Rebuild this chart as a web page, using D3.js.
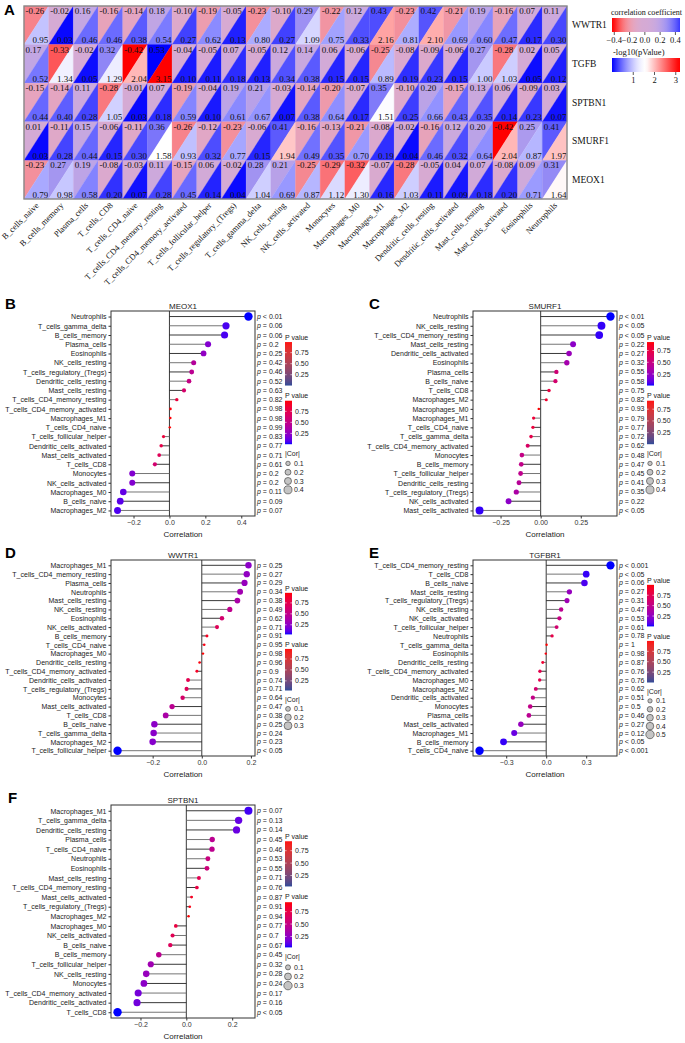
<!DOCTYPE html>
<html><head><meta charset="utf-8">
<script src="https://cdn.jsdelivr.net/npm/d3@7"></script>
<style>body{margin:0;background:#fff}svg{display:block}</style>
</head><body>
<svg id="c" width="685" height="1043"></svg>
<script>
// ---------------- DATA: panel A heatmap ----------------
const cellTypes = ["B_cells_naive","B_cells_memory","Plasma_cells","T_cells_CD8","T_cells_CD4_naive","T_cells_CD4_memory_resting","T_cells_CD4_memory_activated","T_cells_follicular_helper","T_cells_regulatory_(Tregs)","T_cells_gamma_delta","NK_cells_resting","NK_cells_activated","Monocytes","Macrophages_M0","Macrophages_M1","Macrophages_M2","Dendritic_cells_resting","Dendritic_cells_activated","Mast_cells_resting","Mast_cells_activated","Eosinophils","Neutrophils"];
const genes = ["WWTR1","TGFB","SPTBN1","SMURF1","MEOX1"];
const corWWTR1 = [-0.26,-0.02,0.16,-0.16,-0.14,0.18,-0.10,-0.19,-0.05,-0.23,-0.10,0.29,-0.22,0.12,0.43,-0.23,0.42,-0.21,0.19,-0.16,0.07,0.11];
const pWWTR1   = [0.95,0.03,0.46,0.46,0.38,0.54,0.27,0.62,0.13,0.80,0.27,1.09,0.75,0.33,2.16,0.81,2.10,0.69,0.60,0.47,0.17,0.30];
const corTGFB  = [0.17,-0.33,-0.02,0.32,-0.42,0.53,-0.04,-0.05,0.07,-0.05,0.12,0.14,0.06,-0.06,-0.25,-0.08,-0.09,-0.06,0.27,-0.28,0.02,0.05];
const pTGFB    = [0.52,1.34,0.05,1.29,2.04,3.15,0.10,0.11,0.18,0.13,0.34,0.38,0.15,0.15,0.89,0.19,0.23,0.15,1.00,1.03,0.05,0.12];
const corSPTBN1= [-0.15,-0.14,0.11,-0.28,-0.01,0.07,-0.19,-0.04,0.19,0.21,-0.03,-0.14,-0.20,-0.07,0.35,-0.10,0.20,-0.15,0.13,0.06,-0.09,0.03];
const pSPTBN1  = [0.44,0.40,0.28,1.05,0.03,0.18,0.59,0.10,0.61,0.67,0.07,0.38,0.64,0.17,1.51,0.25,0.66,0.43,0.35,0.14,0.23,0.07];
const corSMURF1= [0.01,-0.11,0.15,-0.06,-0.11,0.36,-0.26,-0.12,-0.23,-0.06,0.41,-0.16,-0.13,-0.21,-0.08,-0.02,-0.16,0.12,0.20,-0.42,0.25,0.41];
const pSMURF1  = [0.03,0.28,0.44,0.15,0.30,1.58,0.93,0.32,0.77,0.15,1.94,0.49,0.35,0.70,0.19,0.04,0.46,0.32,0.64,2.04,0.87,1.97];
const corMEOX1 = [-0.23,0.27,0.19,-0.08,-0.03,0.11,-0.15,0.06,-0.02,0.28,0.21,-0.25,-0.29,-0.32,-0.07,-0.28,-0.05,0.04,0.07,-0.08,0.09,0.31];
const pMEOX1   = [0.79,0.98,0.58,0.20,0.07,0.28,0.45,0.14,0.04,1.04,0.69,0.87,1.12,1.30,0.16,1.03,0.11,0.09,0.18,0.20,0.71,1.64];
const corTicks = [-0.4,-0.2,0.0,0.2,0.4];
const logpTicks = [1,2,3];

// ---------------- DATA: lollipop panels ----------------
const catsB = ["Neutrophils","T_cells_gamma_delta","B_cells_memory","Plasma_cells","Eosinophils","NK_cells_resting","T_cells_regulatory_(Tregs)","Dendritic_cells_resting","Mast_cells_resting","T_cells_CD4_memory_resting","T_cells_CD4_memory_activated","Macrophages_M1","T_cells_CD4_naive","T_cells_follicular_helper","Dendritic_cells_activated","Mast_cells_activated","T_cells_CD8","Monocytes","NK_cells_activated","Macrophages_M0","B_cells_naive","Macrophages_M2"];
const corB = [0.44,0.315,0.307,0.215,0.19,0.135,0.124,0.109,0.081,0.041,0.006,0.005,0.002,-0.033,-0.046,-0.057,-0.081,-0.207,-0.207,-0.257,-0.274,-0.289];
const pB = [0.005,0.06,0.06,0.2,0.25,0.42,0.46,0.52,0.63,0.82,0.98,0.98,0.99,0.83,0.77,0.71,0.61,0.2,0.2,0.11,0.09,0.07];
const pLabB = ["< 0.01","= 0.06","= 0.06","= 0.2","= 0.25","= 0.42","= 0.46","= 0.52","= 0.63","= 0.82","= 0.98","= 0.98","= 0.99","= 0.83","= 0.77","= 0.71","= 0.61","= 0.2","= 0.2","= 0.11","= 0.09","= 0.07"];
const ticksB = [-0.2,0.0,0.2,0.4];
const sizesB = [0.1,0.2,0.3,0.4];

const catsC = ["Neutrophils","NK_cells_resting","T_cells_CD4_memory_resting","Mast_cells_resting","Dendritic_cells_activated","Eosinophils","Plasma_cells","B_cells_naive","T_cells_CD8","Macrophages_M2","Macrophages_M0","Macrophages_M1","T_cells_CD4_naive","T_cells_gamma_delta","T_cells_CD4_memory_activated","Monocytes","B_cells_memory","T_cells_follicular_helper","Dendritic_cells_resting","T_cells_regulatory_(Tregs)","NK_cells_activated","Mast_cells_activated"];
const corC = [0.435,0.379,0.365,0.202,0.177,0.163,0.098,0.092,0.052,0.035,-0.012,-0.044,-0.048,-0.06,-0.081,-0.117,-0.121,-0.125,-0.135,-0.152,-0.2,-0.381];
const pC = [0.005,0.03,0.03,0.22,0.27,0.32,0.55,0.58,0.75,0.82,0.93,0.79,0.77,0.72,0.62,0.48,0.47,0.45,0.41,0.35,0.22,0.03];
const pLabC = ["< 0.01","< 0.05","< 0.05","= 0.22","= 0.27","= 0.32","= 0.55","= 0.58","= 0.75","= 0.82","= 0.93","= 0.79","= 0.77","= 0.72","= 0.62","= 0.48","= 0.47","= 0.45","= 0.41","= 0.35","= 0.22","< 0.05"];
const ticksC = [-0.25,0.0,0.25];
const sizesC = [0.1,0.2,0.3,0.4];

const catsD = ["Macrophages_M1","T_cells_CD4_memory_resting","Plasma_cells","Neutrophils","Mast_cells_resting","NK_cells_resting","Eosinophils","NK_cells_activated","B_cells_memory","T_cells_CD4_naive","Macrophages_M0","Dendritic_cells_resting","T_cells_CD4_memory_activated","Dendritic_cells_activated","T_cells_regulatory_(Tregs)","Monocytes","Mast_cells_activated","T_cells_CD8","B_cells_naive","T_cells_gamma_delta","Macrophages_M2","T_cells_follicular_helper"];
const corD = [0.19,0.183,0.174,0.156,0.145,0.114,0.082,0.062,0.021,0.01,0.005,-0.009,-0.02,-0.056,-0.062,-0.078,-0.121,-0.147,-0.193,-0.196,-0.2,-0.343];
const pD = [0.25,0.27,0.29,0.34,0.38,0.49,0.62,0.71,0.91,0.95,0.98,0.96,0.9,0.74,0.71,0.64,0.47,0.38,0.25,0.24,0.23,0.03];
const pLabD = ["= 0.25","= 0.27","= 0.29","= 0.34","= 0.38","= 0.49","= 0.62","= 0.71","= 0.91","= 0.95","= 0.98","= 0.96","= 0.9","= 0.74","= 0.71","= 0.64","= 0.47","= 0.38","= 0.25","= 0.24","= 0.23","< 0.05"];
const ticksD = [-0.2,0.0,0.2];
const sizesD = [0.1,0.2,0.3];

const catsE = ["T_cells_CD4_memory_resting","T_cells_CD8","B_cells_naive","Mast_cells_resting","T_cells_regulatory_(Tregs)","NK_cells_resting","NK_cells_activated","T_cells_follicular_helper","Neutrophils","T_cells_gamma_delta","Eosinophils","Dendritic_cells_resting","T_cells_CD4_memory_activated","Macrophages_M0","Macrophages_M2","Dendritic_cells_activated","Monocytes","Plasma_cells","Mast_cells_activated","Macrophages_M1","B_cells_memory","T_cells_CD4_naive"];
const corE = [0.482,0.30,0.287,0.174,0.156,0.112,0.099,0.078,0.044,0.003,-0.003,-0.026,-0.047,-0.049,-0.078,-0.10,-0.12,-0.13,-0.19,-0.24,-0.32,-0.50];
const pE = [0.0005,0.03,0.06,0.27,0.31,0.47,0.53,0.61,0.78,1,0.98,0.87,0.76,0.76,0.62,0.51,0.5,0.46,0.27,0.12,0.03,0.0005];
const pLabE = ["< 0.001","< 0.05","= 0.06","= 0.27","= 0.31","= 0.47","= 0.53","= 0.61","= 0.78","= 1","= 0.98","= 0.87","= 0.76","= 0.76","= 0.62","= 0.51","= 0.5","= 0.46","= 0.27","= 0.12","< 0.05","< 0.001"];
const ticksE = [-0.3,0.0,0.3];
const sizesE = [0.1,0.2,0.3,0.4,0.5];

const catsF = ["Macrophages_M1","T_cells_gamma_delta","Dendritic_cells_resting","Plasma_cells","T_cells_CD4_naive","Neutrophils","Eosinophils","Mast_cells_resting","T_cells_CD4_memory_resting","Mast_cells_activated","T_cells_regulatory_(Tregs)","Macrophages_M2","Macrophages_M0","NK_cells_activated","B_cells_naive","B_cells_memory","T_cells_follicular_helper","NK_cells_resting","Monocytes","T_cells_CD4_memory_activated","Dendritic_cells_activated","T_cells_CD8"];
const corF = [0.271,0.228,0.219,0.113,0.112,0.094,0.09,0.055,0.046,0.023,0.015,0.01,-0.046,-0.06,-0.07,-0.12,-0.155,-0.175,-0.185,-0.21,-0.215,-0.30];
const pF = [0.07,0.13,0.14,0.45,0.46,0.53,0.55,0.71,0.76,0.87,0.91,0.94,0.77,0.7,0.67,0.45,0.32,0.28,0.24,0.17,0.16,0.03];
const pLabF = ["= 0.07","= 0.13","= 0.14","= 0.45","= 0.46","= 0.53","= 0.55","= 0.71","= 0.76","= 0.87","= 0.91","= 0.94","= 0.77","= 0.7","= 0.67","= 0.45","= 0.32","= 0.28","= 0.24","= 0.17","= 0.16","< 0.05"];
const ticksF = [-0.2,0.0,0.2];
const sizesF = [0.1,0.2,0.3];

// ---------------- DRAW ----------------
const SERIF = "'Liberation Serif','Times New Roman',serif";
const SANS = "'Liberation Sans',Arial,sans-serif";
const svg = d3.select("#c");
const defs = svg.append("defs");
let gid = 0;
function gradient(colorFn, vertical) {
  const id = "g" + (gid++);
  const lg = defs.append("linearGradient").attr("id", id)
    .attr("x1", 0).attr("y1", 0).attr("x2", vertical ? 0 : 1).attr("y2", vertical ? 1 : 0);
  d3.range(0, 1.0001, 0.04).forEach(t => lg.append("stop").attr("offset", t).attr("stop-color", colorFn(t)));
  return "url(#" + id + ")";
}

// ===== Panel A =====
const heatCor = [corWWTR1, corTGFB, corSPTBN1, corSMURF1, corMEOX1];
const heatP = [pWWTR1, pTGFB, pSPTBN1, pSMURF1, pMEOX1];
const hx = d3.scaleBand().domain(cellTypes).range([24, 567]);
const hy = d3.scaleBand().domain(genes).range([6, 199]);
const corColor = d3.scaleDivergingPow(d3.interpolateRgbBasis(["#ff0000", "#ffffff", "#0000ff"]))
  .domain([-0.42, 0, 0.53]).exponent(1.8).clamp(true);
// -log10(p): blue (low) -> white (~1.6) -> red (high); blue side fades fast
const pBlueT = d3.scalePow().exponent(1.6).domain([0, 1.6]).range([1, 0]).clamp(true);
const pRedT = d3.scaleLinear().domain([1.6, 3.15]).range([0, 1]).clamp(true);
const toBlue = d3.interpolateRgb("#ffffff", "#0000ff");
const toRed = d3.interpolateRgb("#ffffff", "#ff0000");
function pColor(v) {
  if (v < 1.6) { const t = 1 - v / 1.6; return toBlue(Math.pow(t, 1.6)); }
  return toRed(pRedT(v));
}

svg.append("text").attr("x", 4).attr("y", 15).attr("font-family", SANS).attr("font-weight", "bold")
  .attr("font-size", 15).text("A");

const hg = svg.append("g");
genes.forEach((gname, gi) => {
  cellTypes.forEach((ct, ci) => {
    const x0 = hx(ct), y0 = hy(gname), w = hx.bandwidth(), h = hy.bandwidth();
    const cc = corColor(heatCor[gi][ci]);
    const pc = pColor(heatP[gi][ci]);
    hg.append("path").attr("d", `M${x0},${y0}L${x0 + w},${y0}L${x0},${y0 + h}Z`)
      .attr("fill", cc).attr("stroke", cc).attr("stroke-width", 0.3);
    hg.append("path").attr("d", `M${x0 + w},${y0}L${x0 + w},${y0 + h}L${x0},${y0 + h}Z`)
      .attr("fill", pc).attr("stroke", pc).attr("stroke-width", 0.3);
    hg.append("text").attr("x", x0 + 1.5).attr("y", y0 + 8).attr("font-family", SERIF)
      .attr("font-size", 9).attr("fill", "#111").text(heatCor[gi][ci].toFixed(2));
    hg.append("text").attr("x", x0 + w - 0.5).attr("y", y0 + h - 1.5).attr("font-family", SERIF)
      .attr("font-size", 9).attr("fill", "#111").attr("text-anchor", "end").text(heatP[gi][ci].toFixed(2));
  });
  hg.append("text").attr("x", 572).attr("y", hy(gname) + hy.bandwidth() / 2 + 3).attr("font-family", SERIF)
    .attr("font-size", 9.5).attr("fill", "#111").text(gname);
});
hg.append("rect").attr("x", 24).attr("y", 6).attr("width", 543).attr("height", 193)
  .attr("fill", "none").attr("stroke", "#888").attr("stroke-width", 1.4);
cellTypes.forEach(ct => {
  hg.append("text").attr("transform", `translate(${hx(ct) + hx.bandwidth() / 2 + 3},${206}) rotate(-45)`)
    .attr("text-anchor", "end").attr("font-family", SERIF).attr("font-size", 8.5).attr("fill", "#111").text(ct);
});

// heatmap legends
const lgA = svg.append("g").attr("font-family", SERIF).attr("font-size", 8.5).attr("fill", "#111");
lgA.append("text").attr("x", 611).attr("y", 15).attr("font-size", 8).attr("textLength", 71)
  .attr("lengthAdjust", "spacingAndGlyphs").text("correlation coefficient");
const corLx = d3.scaleLinear().domain([-0.43, 0.46]).range([612, 680]);
lgA.append("rect").attr("x", 612).attr("y", 18).attr("width", 68).attr("height", 14)
  .attr("fill", gradient(t => corColor(corLx.invert(612 + 68 * t)), false));
corTicks.forEach(v => {
  lgA.append("line").attr("x1", corLx(v)).attr("x2", corLx(v)).attr("y1", 32).attr("y2", 35).attr("stroke", "#111").attr("stroke-width", 0.7);
  lgA.append("text").attr("x", corLx(v)).attr("y", 43).attr("text-anchor", "middle").text(d3.format(".1f")(v).replace("-", "\u2212"));
});
lgA.append("text").attr("x", 613).attr("y", 55).text("-log10(pValue)");
const pLx = d3.scaleLinear().domain([0, 3.2]).range([612, 680]);
lgA.append("rect").attr("x", 612).attr("y", 58).attr("width", 68).attr("height", 14)
  .attr("fill", gradient(t => pColor(pLx.invert(612 + 68 * t)), false));
logpTicks.forEach(v => {
  lgA.append("line").attr("x1", pLx(v)).attr("x2", pLx(v)).attr("y1", 72).attr("y2", 75).attr("stroke", "#111").attr("stroke-width", 0.7);
  lgA.append("text").attr("x", pLx(v)).attr("y", 83).attr("text-anchor", "middle").text(v);
});

// ===== Lollipop panels =====
const bright = d3.interpolateLab("#0000ff", "#ff0000");
const muted = d3.interpolateLab("#2f4b98", "#ff1010");

function lollipop(o) {
  const g = svg.append("g").attr("font-family", SANS);
  const [x0, y0, x1, y1] = o.box;
  const ext = d3.extent(o.cor), pad = (ext[1] - ext[0]) * 0.05;
  const x = d3.scaleLinear().domain([ext[0] - pad, ext[1] + pad]).range([x0, x1]);
  const y = d3.scalePoint().domain(o.cats).range([y0, y1]).padding(0.6);
  const pExt = d3.extent(o.p);
  const col = d3.scaleLinear().domain(pExt).range([0, 1]);
  const absExt = d3.extent(o.cor.map(Math.abs));
  const r = d3.scaleRadial().domain(absExt).range([1.2, 4.2]);
  const k = y.step() / 9.13;

  g.append("text").attr("x", o.letterX).attr("y", y0 - 2).attr("font-weight", "bold").attr("font-size", 15).attr("fill", "#000").text(o.letter);
  g.append("text").attr("x", (x0 + x1) / 2).attr("y", y0 - 2).attr("text-anchor", "middle").attr("font-size", 8).attr("fill", "#222").text(o.title);

  g.append("line").attr("x1", x(0)).attr("x2", x(0)).attr("y1", y0).attr("y2", y1).attr("stroke", "#222").attr("stroke-width", 0.9);
  o.cats.forEach((c, i) => {
    g.append("line").attr("x1", x(0)).attr("x2", x(o.cor[i])).attr("y1", y(c)).attr("y2", y(c))
      .attr("stroke", i % 2 ? "#666" : "#222").attr("stroke-width", 0.9);
  });
  o.cats.forEach((c, i) => {
    g.append("circle").attr("cx", x(o.cor[i])).attr("cy", y(c)).attr("r", r(Math.abs(o.cor[i])))
      .attr("fill", bright(col(o.p[i])));
  });
  g.append("rect").attr("x", x0).attr("y", y0).attr("width", x1 - x0).attr("height", y1 - y0)
    .attr("fill", "none").attr("stroke", "#333").attr("stroke-width", 1);

  const ya = g.append("g").attr("transform", `translate(${x0},0)`).call(d3.axisLeft(y).tickSize(2.5).tickPadding(2));
  ya.select(".domain").remove();
  ya.selectAll("line").attr("stroke", "#333");
  ya.selectAll("text").attr("font-family", SANS).attr("font-size", 7).attr("fill", "#222");
  const xa = g.append("g").attr("transform", `translate(0,${y1})`)
    .call(d3.axisBottom(x).tickValues(o.ticks).tickSize(2.5).tickPadding(2).tickFormat(d3.format(o.fmt)));
  xa.select(".domain").remove();
  xa.selectAll("line").attr("stroke", "#333");
  xa.selectAll("text").attr("font-family", SANS).attr("font-size", 7).attr("fill", "#333");
  g.append("text").attr("x", (x0 + x1) / 2).attr("y", y1 + 21).attr("text-anchor", "middle").attr("font-size", 8).attr("fill", "#222").text("Correlation");

  o.cats.forEach((c, i) => {
    const t = g.append("text").attr("x", x1 + 2).attr("y", y(c) + 2.5).attr("font-size", 7).attr("fill", "#222");
    t.append("tspan").attr("font-style", "italic").text("p");
    t.append("tspan").text(" " + o.pLab[i]);
  });

  const lx = x1 + 30, L = o.legendTop;
  function bar(top, interp) {
    g.append("text").attr("x", lx).attr("y", top + 2.5).attr("font-size", 7).attr("fill", "#222").text("P value");
    const by = top + 5 * k, bh = 43 * k;
    g.append("rect").attr("x", lx).attr("y", by).attr("width", 7).attr("height", bh)
      .attr("fill", gradient(t => interp(1 - t), true));
    const ps = d3.scaleLinear().domain(pExt).range([by + bh, by]);
    [0.25, 0.5, 0.75].forEach(v => {
      if (v < pExt[0] || v > pExt[1]) return;
      g.append("line").attr("x1", lx).attr("x2", lx + 1.6).attr("y1", ps(v)).attr("y2", ps(v)).attr("stroke", "#fff").attr("stroke-width", 0.6);
      g.append("line").attr("x1", lx + 5.4).attr("x2", lx + 7).attr("y1", ps(v)).attr("y2", ps(v)).attr("stroke", "#fff").attr("stroke-width", 0.6);
      g.append("text").attr("x", lx + 10).attr("y", ps(v) + 2.5).attr("font-size", 7).attr("fill", "#222").text(d3.format(".2f")(v));
    });
  }
  bar(L, o.mutedFirst ? muted : bright);
  bar(L + 58 * k, o.mutedFirst ? bright : muted);
  g.append("text").attr("x", lx).attr("y", L + 115 * k + 2.5).attr("font-size", 7).attr("fill", "#222").text("|Cor|");
  o.sizes.forEach((s, i) => {
    const cy = L + (125 + i * 8.7) * k;
    g.append("circle").attr("cx", lx + 3).attr("cy", cy).attr("r", r(s)).attr("fill", "#c4c4c4").attr("stroke", "#333").attr("stroke-width", 0.6);
    g.append("text").attr("x", lx + 9).attr("y", cy + 2.5).attr("font-size", 7).attr("fill", "#222").text(s);
  });
}

lollipop({letter: "B", letterX: 5, title: "MEOX1", cats: catsB, cor: corB, p: pB, pLab: pLabB, ticks: ticksB, fmt: ".1f", sizes: sizesB, box: [111, 311, 255, 516], legendTop: 337, mutedFirst: true});
lollipop({letter: "C", letterX: 369, title: "SMURF1", cats: catsC, cor: corC, p: pC, pLab: pLabC, ticks: ticksC, fmt: ".2f", sizes: sizesC, box: [473, 311, 617, 516], legendTop: 337, mutedFirst: false});
lollipop({letter: "D", letterX: 5, title: "WWTR1", cats: catsD, cor: corD, p: pD, pLab: pLabD, ticks: ticksD, fmt: ".1f", sizes: sizesD, box: [111, 560, 255, 756], legendTop: 588, mutedFirst: false});
lollipop({letter: "E", letterX: 369, title: "TGFBR1", cats: catsE, cor: corE, p: pE, pLab: pLabE, ticks: ticksE, fmt: ".1f", sizes: sizesE, box: [473, 560, 617, 756], legendTop: 580, mutedFirst: false});
lollipop({letter: "F", letterX: 8, title: "SPTBN1", cats: catsF, cor: corF, p: pF, pLab: pLabF, ticks: ticksF, fmt: ".1f", sizes: sizesF, box: [111, 805, 255, 1018], legendTop: 836, mutedFirst: true});
</script>
</body></html>
